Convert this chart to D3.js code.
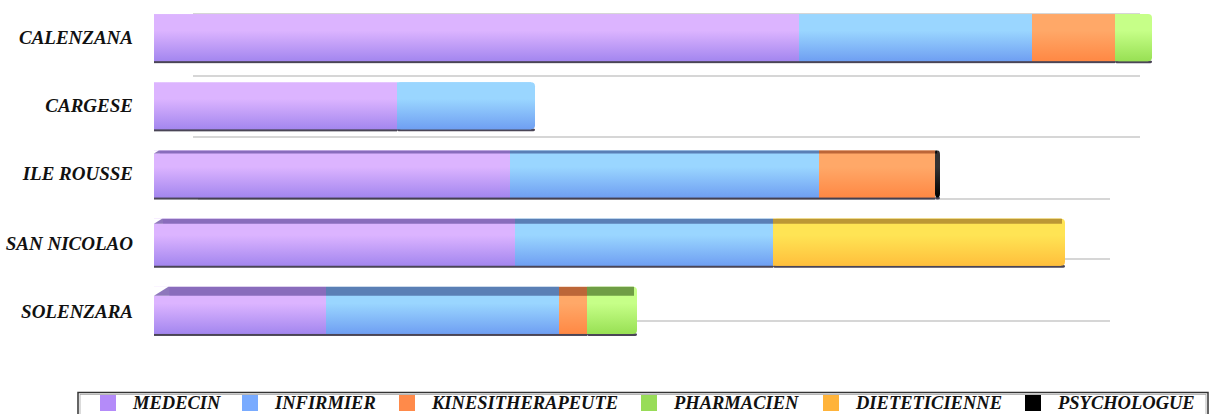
<!DOCTYPE html>
<html><head><meta charset="utf-8">
<script src="https://cdn.jsdelivr.net/npm/d3@7"></script>
<style>html,body{margin:0;padding:0;background:#fff;}svg{display:block;}</style>
</head><body>
<svg id="c" width="1216" height="414"></svg>
<script>
const categories = ["CALENZANA","CARGESE","ILE ROUSSE","SAN NICOLAO","SOLENZARA"];
const seriesNames = ["MEDECIN","INFIRMIER","KINESITHERAPEUTE","PHARMACIEN","DIETETICIENNE","PSYCHOLOGUE"];
const medecin       = [64.5, 24.3, 35.6, 36.1, 17.2];
const infirmier     = [23.3, 13.8, 30.9, 25.8, 23.3];
const kine          = [8.3, 0, 11.6, 0, 2.8];
const pharmacien    = [3.7, 0, 0, 0, 5.0];
const dieteticienne = [0, 0, 0, 29.2, 0];
const psychologue   = [0, 0, 0.5, 0, 0];

const colors = {
  MEDECIN: {legend:"#b48bf9", top:"#dcb4ff", bot:"#a386ef", face:"#7a5fb0"},
  INFIRMIER: {legend:"#79abff", top:"#9ad6ff", bot:"#6f9ff2", face:"#4f70a8"},
  KINESITHERAPEUTE: {legend:"#ff8a4a", top:"#ffa868", bot:"#ff8844", face:"#b05a30"},
  PHARMACIEN: {legend:"#98dc58", top:"#c6ff88", bot:"#98e054", face:"#5f8c3a"},
  DIETETICIENNE: {legend:"#ffb33a", top:"#ffe454", bot:"#ffbf3c", face:"#b08a30"},
  PSYCHOLOGUE: {legend:"#000000", top:"#333333", bot:"#000000", face:"#000000"}
};
const data = categories.map((c,i)=>({cat:c, MEDECIN:medecin[i], INFIRMIER:infirmier[i], KINESITHERAPEUTE:kine[i], PHARMACIEN:pharmacien[i], DIETETICIENNE:dieteticienne[i], PSYCHOLOGUE:psychologue[i]}));
const stack = d3.stack().keys(seriesNames)(data);

const svg = d3.select("#c");
const x = d3.scaleLinear().domain([0,100]).range([154,1154]);
const y = d3.scaleBand().domain(categories).range([4.5,345.5]).paddingInner(0.28).paddingOuter(0.14);

const defs = svg.append("defs");
seriesNames.forEach((s,i)=>{
  const g = defs.append("linearGradient").attr("id","g"+i).attr("x1",0).attr("y1",0).attr("x2",0).attr("y2",1);
  g.append("stop").attr("offset","0%").attr("stop-color",colors[s].top);
  g.append("stop").attr("offset","35%").attr("stop-color",colors[s].top);
  g.append("stop").attr("offset","100%").attr("stop-color",colors[s].bot);
});

// category gridlines (back wall)
const gridY = [14, 76, 137, 199, 259, 321];
svg.append("g").selectAll("line").data(gridY).join("line")
  .attr("x1",(d,i)=> i<3 ? 193 : 198).attr("x2",(d,i)=> i<3 ? 1140 : 1110)
  .attr("y1",d=>d).attr("y2",d=>d)
  .attr("stroke","#c9c9c9").attr("stroke-width",1.5);

// bars
const bars = svg.append("g");
const faceH = [0, 0, 3, 5, 9];
stack.forEach((layer,si)=>{
  const s = seriesNames[si];
  layer.forEach((d,ci)=>{
    const w = x(d[1]) - x(d[0]);
    if (w <= 0) return;
    const cat = categories[ci];
    const y0 = y(cat), h = y.bandwidth();
    const isLast = stack.slice(si+1).every(l=> l[ci][1]-l[ci][0] <= 0);
    const isFirst = si === 0;
    const g = bars.append("g");
    g.append("rect").attr("x",x(d[0])).attr("y",y0+h-3).attr("width",w).attr("height",3)
      .attr("fill","#2a2438").attr("opacity",0.85).attr("rx", isLast?3:0);
    g.append("rect").attr("x",x(d[0])).attr("y",y0).attr("width",w).attr("height",h-2)
      .attr("fill","url(#g"+si+")").attr("rx", isLast?4:0);
    if (isLast && w>8) {
      g.append("rect").attr("x",x(d[0])).attr("y",y0).attr("width",w-4).attr("height",h-2).attr("fill","url(#g"+si+")");
    }
    const th = faceH[ci];
    if (th > 0) {
      const xa = x(d[0]), xb = x(d[1]) - (isLast?3:0);
      const pts = isFirst
        ? [[xa, y0+th],[xa+th*1.6, y0],[xb, y0],[xb, y0+th]]
        : [[xa, y0+th],[xa, y0],[xb, y0],[xb, y0+th]];
      if (isFirst) {
        g.append("rect").attr("x",xa).attr("y",y0).attr("width",th*1.6+1).attr("height",th).attr("fill","#fff");
      }
      g.append("path").attr("d", d3.line()(pts)+"Z").attr("fill",colors[s].face).attr("opacity",0.85);
    }
  });
});

// category labels
svg.append("g").selectAll("text").data(categories).join("text")
  .attr("x",133).attr("y",(d,i)=>y(d)+y.bandwidth()/2+5 + (i>=3?2:0))
  .attr("text-anchor","end")
  .attr("font-family","'Liberation Serif','DejaVu Serif',serif")
  .attr("font-weight","bold").attr("font-style","italic").attr("font-size",19)
  .attr("fill","#111")
  .text(d=>d);

// legend
const leg = svg.append("g");
leg.append("rect").attr("x",78).attr("y",392.5).attr("width",1130).attr("height",30)
  .attr("fill","#fff").attr("stroke","#333").attr("stroke-width",1.5);
leg.append("rect").attr("x",80).attr("y",394.5).attr("width",1126).attr("height",30)
  .attr("fill","none").attr("stroke","#999").attr("stroke-width",0.7);
const legX = [100, 242, 399, 641, 823, 1025];
seriesNames.forEach((s,i)=>{
  leg.append("rect").attr("x",legX[i]).attr("y",395).attr("width",16).attr("height",16).attr("fill",colors[s].legend);
  leg.append("text").attr("x",legX[i]+33).attr("y",409)
    .attr("font-family","'Liberation Serif','DejaVu Serif',serif")
    .attr("font-weight","bold").attr("font-style","italic").attr("font-size",18.5)
    .attr("fill","#111").text(s);
});
</script>
</body></html>
